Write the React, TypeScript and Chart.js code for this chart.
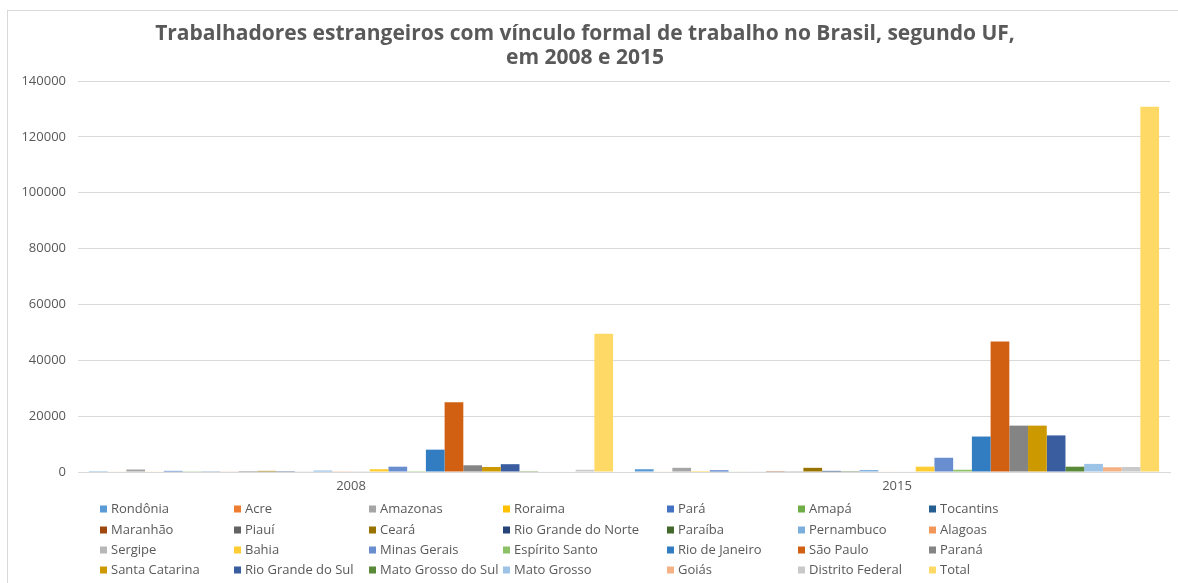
import React, { useEffect, useRef } from "react";
import { Chart, registerables } from "chart.js";

Chart.register(...registerables);

const years = ["2008", "2015"];

const ufs = [
  "Rondônia", "Acre", "Amazonas", "Roraima", "Pará", "Amapá", "Tocantins",
  "Maranhão", "Piauí", "Ceará", "Rio Grande do Norte", "Paraíba", "Pernambuco", "Alagoas",
  "Sergipe", "Bahia", "Minas Gerais", "Espírito Santo", "Rio de Janeiro", "São Paulo", "Paraná",
  "Santa Catarina", "Rio Grande do Sul", "Mato Grosso do Sul", "Mato Grosso", "Goiás", "Distrito Federal", "Total",
];

const values2008 = [
  300, 200, 900, 150, 400, 100, 100,
  150, 50, 400, 300, 150, 500, 100,
  100, 1000, 1900, 300, 8000, 25000, 2400,
  1800, 2800, 300, 200, 200, 800, 49500,
];

const values2015 = [
  1000, 200, 1500, 300, 600, 150, 200,
  300, 100, 1500, 400, 300, 700, 200,
  150, 1900, 5100, 800, 12700, 46700, 16600,
  16600, 13100, 1900, 2900, 1700, 1800, 130800,
];

const colors = [
  "#5B9BD5", "#ED7D31", "#A5A5A5", "#FFC000", "#4472C4", "#70AD47", "#255E91",
  "#9E480E", "#636363", "#997300", "#264478", "#43682B", "#7CAFDD", "#F1975A",
  "#B7B7B7", "#FFCD33", "#698ED0", "#8CC168", "#327DC2", "#D26012", "#848484",
  "#CC9A00", "#3A5DA0", "#5A8A39", "#9DC3E6", "#F4B183", "#C9C9C9", "#FFD966",
];

const titleLines = [
  "Trabalhadores estrangeiros com vínculo formal de trabalho no Brasil, segundo UF,",
  "em 2008 e 2015",
];

const yTicks = { min: 0, max: 140000, step: 20000 };

const FONT = "'Open Sans', 'DejaVu Sans', sans-serif";
const TEXT = "#595959";

const legendCols = [100, 234, 369, 503, 667, 798, 929];
const legendRows = [509, 530, 550, 570];

const gridLegend = {
  id: "gridLegend",
  afterDraw(chart: any) {
    const ctx = chart.ctx;
    ctx.save();
    ctx.font = `13px ${FONT}`;
    ctx.textBaseline = "middle";
    ctx.textAlign = "left";
    chart.data.datasets.forEach((ds: any, i: number) => {
      const x = legendCols[i % 7];
      const y = legendRows[Math.floor(i / 7)];
      ctx.fillStyle = ds.backgroundColor;
      ctx.fillRect(x, y - 3.5, 7, 7);
      ctx.fillStyle = TEXT;
      ctx.fillText(ds.label, x + 11, y);
    });
    ctx.restore();
  },
};

export default function App() {
  const ref = useRef<HTMLCanvasElement | null>(null);

  useEffect(() => {
    if (!ref.current) return;
    const chart = new Chart(ref.current, {
      type: "bar",
      data: {
        labels: years,
        datasets: ufs.map((name, i) => ({
          label: name,
          data: [values2008[i], values2015[i]],
          backgroundColor: colors[i],
          borderWidth: 0,
          categoryPercentage: 0.96,
          barPercentage: 1.0,
        })),
      },
      plugins: [gridLegend],
      options: {
        animation: false,
        responsive: false,
        maintainAspectRatio: false,
        layout: { padding: { left: 0, right: 8, top: 0, bottom: 0 } },
        plugins: {
          legend: { display: false },
          tooltip: { enabled: false },
          title: {
            display: true,
            text: titleLines,
            color: TEXT,
            font: { family: FONT, size: 21, weight: "bold", lineHeight: 24 / 21 },
            padding: { top: 22, bottom: 11 },
          },
        },
        scales: {
          x: {
            grid: { display: false, drawTicks: false },
            border: { display: true, color: "#D9D9D9" },
            ticks: { color: TEXT, font: { family: FONT, size: 13 }, padding: 6 },
            afterFit(scale: any) {
              scale.height = 111;
            },
          },
          y: {
            min: yTicks.min,
            max: yTicks.max,
            grid: { color: "#D9D9D9", drawTicks: false },
            border: { display: false },
            ticks: {
              stepSize: yTicks.step,
              color: TEXT,
              font: { family: FONT, size: 13 },
              padding: 12,
              callback: (v: any) => String(v),
            },
            afterFit(scale: any) {
              scale.width = 78;
            },
          },
        },
      } as any,
    });
    return () => chart.destroy();
  }, []);

  return (
    <div style={{ position: "fixed", left: 0, top: 0, width: 1178, height: 583, background: "#fff", overflow: "hidden" }}>
      <div
        style={{
          position: "absolute",
          left: 7,
          top: 10,
          width: 1200,
          height: 600,
          borderLeft: "1px solid #D9D9D9",
          borderTop: "1px solid #D9D9D9",
        }}
      />
      <canvas ref={ref} width={1178} height={583} style={{ position: "absolute", left: 0, top: 0 }} />
    </div>
  );
}
